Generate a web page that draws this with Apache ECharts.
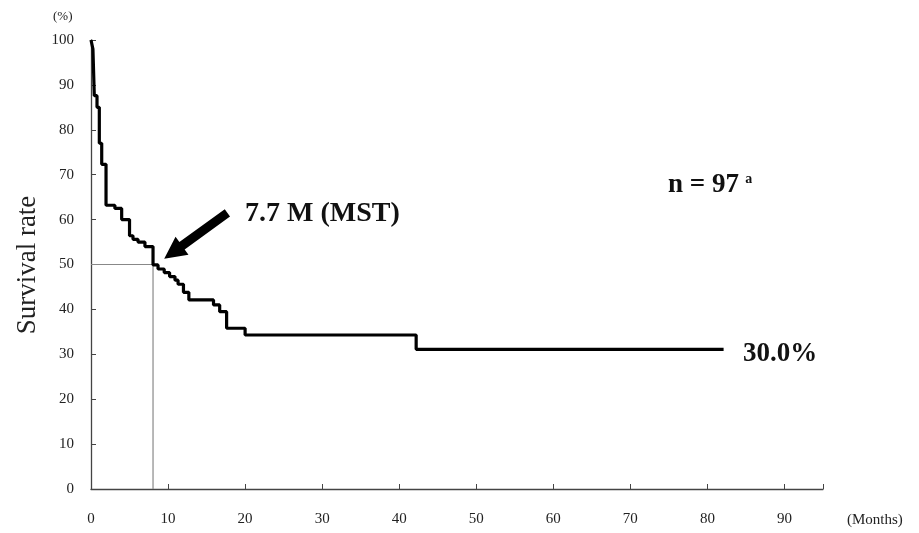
<!DOCTYPE html>
<html>
<head>
<meta charset="utf-8">
<script src="https://cdn.jsdelivr.net/npm/echarts@6/dist/echarts.min.js"></script>
<style>
html,body{margin:0;padding:0;background:#fff;}
#chart{width:919px;height:533px;}
</style>
</head>
<body>
<div id="chart"></div>
<script>
// Kaplan-Meier step points: time (months) and survival (%) after that time
const months   = [0, 0.25, 0.43, 0.78, 1.08, 1.39, 1.95, 3.1, 3.98, 5.0, 5.45, 6.1, 7.0, 8.05, 8.7, 9.5, 10.2, 10.9, 11.3, 12.0, 12.7, 15.9, 16.7, 17.6, 20.0, 42.2, 82.1];
const survival = [100, 98, 87.6, 85, 77, 72.3, 63.2, 62.5, 60, 56.4, 55.6, 55, 54, 49.9, 49, 48.2, 47.3, 46.5, 45.6, 43.8, 42.1, 41, 39.5, 35.8, 34.3, 31.1, 31.1];
// Median survival reference line
const mstMonths = [0, 8.05, 8.05];
const mstValues = [50, 50, 0];
const xTicks = [0, 10, 20, 30, 40, 50, 60, 70, 80, 90];

// annotation arrow (data coordinates): tail and tip
const arrowTail = [17.7, 61.5];
const arrowTip = [9.5, 51.3];

const serif = '"Liberation Serif", "Times New Roman", serif';
const chart = echarts.init(document.getElementById('chart'));

const baseGraphics = [
  { type: 'text', left: 53, top: 10, style: { text: '(%)', font: '13px ' + serif, fill: '#222' } },
  { type: 'text', x: 28, y: 265, rotation: Math.PI / 2,
    style: { text: 'Survival rate', font: '27px ' + serif, fill: '#222', align: 'center', verticalAlign: 'middle' } },
  { type: 'text', left: 847, top: 513, style: { text: '(Months)', font: '15px ' + serif, fill: '#222' } },
  { type: 'text', left: 245, top: 200, style: { text: '7.7 M (MST)', font: 'bold 28px ' + serif, fill: '#111' } },
  { type: 'text', left: 668, top: 172,
    style: { text: '{m|n = 97} {s|a}', fill: '#111',
      rich: { m: { font: 'bold 27px ' + serif, fill: '#111' },
              s: { font: 'bold 14px ' + serif, fill: '#111', verticalAlign: 'top', padding: [0, 0, 12, 3] } } } },
  { type: 'text', left: 743, top: 341, style: { text: '30.0%', font: 'bold 27px ' + serif, fill: '#111' } }
];

const option = {
  backgroundColor: '#fff',
  animation: false,
  grid: { left: 91, right: 96, top: 40, bottom: 44, outerBoundsMode: 'none' },
  xAxis: {
    type: 'value', min: 0, max: 95, interval: 10,
    axisLine: { show: true, lineStyle: { color: '#444', width: 1.3 } },
    axisTick: { show: true, inside: true, length: 5, lineStyle: { color: '#444' } },
    axisLabel: { margin: 23, fontFamily: serif, fontSize: 15, color: '#222',
      customValues: xTicks, formatter: v => String(v) },
    splitLine: { show: false }
  },
  yAxis: {
    type: 'value', min: 0, max: 100, interval: 10,
    axisLine: { show: true, lineStyle: { color: '#444', width: 1.3 } },
    axisTick: { show: true, inside: true, length: 5, lineStyle: { color: '#444' } },
    axisLabel: { margin: 17, fontFamily: serif, fontSize: 15, color: '#222' },
    splitLine: { show: false }
  },
  series: [
    {
      type: 'line',
      data: mstMonths.map((m, i) => [m, mstValues[i]]),
      symbol: 'none',
      lineStyle: { color: '#888', width: 1.2 },
      z: 1
    },
    {
      type: 'line',
      step: 'end',
      data: months.map((m, i) => [m, survival[i]]),
      symbol: 'none',
      lineStyle: { color: '#000', width: 3.2 },
      z: 3
    }
  ],
  graphic: baseGraphics
};
chart.setOption(option);

// Build arrow polygon from data coordinates
const t = chart.convertToPixel({ gridIndex: 0 }, arrowTail);
const p = chart.convertToPixel({ gridIndex: 0 }, arrowTip);
const dx = p[0] - t[0], dy = p[1] - t[1];
const len = Math.sqrt(dx * dx + dy * dy);
const ux = dx / len, uy = dy / len;
const nx = -uy, ny = ux;
const shaftW = 4.5, headW = 11, headL = 22;
const bx = p[0] - ux * headL, by = p[1] - uy * headL;
const pts = [
  [t[0] + nx * shaftW, t[1] + ny * shaftW],
  [bx + nx * shaftW, by + ny * shaftW],
  [bx + nx * headW, by + ny * headW],
  [p[0], p[1]],
  [bx - nx * headW, by - ny * headW],
  [bx - nx * shaftW, by - ny * shaftW],
  [t[0] - nx * shaftW, t[1] - ny * shaftW]
];
chart.setOption({
  graphic: baseGraphics.concat([{ type: 'polygon', shape: { points: pts }, style: { fill: '#000' }, z: 10 }])
});
</script>
</body>
</html>
